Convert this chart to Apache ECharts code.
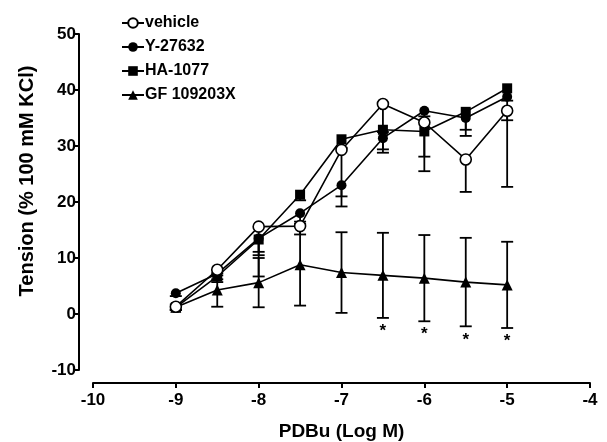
<!DOCTYPE html>
<html>
<head>
<meta charset="utf-8">
<script src="https://cdn.jsdelivr.net/npm/echarts@6/dist/echarts.min.js"></script>
<style>
html,body{margin:0;padding:0;background:#fff;}
#chart{width:607px;height:442px;}
</style>
</head>
<body>
<div id="chart"></div>
<script>
const doses = [-9, -8.5, -8, -7.5, -7, -6.5, -6, -5.5, -5];
const xTicks = [-10, -9, -8, -7, -6, -5, -4];
const yTicks = [-10, 0, 10, 20, 30, 40, 50];

const vehicle    = [1.3, 7.9, 15.6, 15.7, 29.3, 37.5, 34.2, 27.6, 36.3];
const vehicleErr = [0.5, 1.0, 8.9, 1.5, 10.1, 5.0, 8.7, 5.8, 13.6];

const y27632     = [3.7, 7.2, 13.5, 18.0, 23.0, 31.4, 36.3, 35.0, 38.8];
const y27632Err  = [0.5, 1.0, 2.4, 1.5, 2.0, 2.0, 1.0, 3.2, 4.2];

const ha1077     = [1.2, 6.7, 13.3, 21.3, 31.2, 32.9, 32.6, 36.1, 40.3];
const ha1077Err  = [0.5, 1.0, 2.8, 1.0, 1.5, 4.1, 4.5, 3.2, 2.2];

const gf109203x  = [1.2, 4.3, 5.6, 8.8, 7.4, 6.9, 6.4, 5.7, 5.2];
const gfErr      = [0.5, 3.0, 4.4, 7.3, 7.2, 7.6, 7.7, 7.9, 7.7];
const gfSig      = [0, 0, 0, 0, 0, 1, 1, 1, 1];

const FONT = '"Liberation Sans", Arial, Helvetica, sans-serif';

function errData(vals, errs, both, sig) {
  return doses.map((d, i) => [d, vals[i], errs[i], both ? errs[i] : 0, sig ? sig[i] : 0]);
}

function renderErr(params, api) {
  const x = api.value(0), y = api.value(1), lo = api.value(2), hi = api.value(3), s = api.value(4);
  const pl = api.coord([x, y - lo]);
  const ph = api.coord([x, y + hi]);
  const cw = 6;
  const style = { stroke: '#000', lineWidth: 1.8 };
  const children = [
    { type: 'line', shape: { x1: pl[0], y1: pl[1], x2: ph[0], y2: ph[1] }, style },
    { type: 'line', shape: { x1: pl[0] - cw, y1: pl[1], x2: pl[0] + cw, y2: pl[1] }, style }
  ];
  if (hi > 0) {
    children.push({ type: 'line', shape: { x1: ph[0] - cw, y1: ph[1], x2: ph[0] + cw, y2: ph[1] }, style });
  }
  if (s) {
    children.push({ type: 'text', style: { x: pl[0], y: pl[1] + 5, text: '*', fill: '#000',
      font: 'bold 17px ' + FONT, align: 'center', verticalAlign: 'top' } });
  }
  return { type: 'group', children };
}

function lineSeries(name, vals, symbol, size, open) {
  return {
    name, type: 'line', data: doses.map((d, i) => [d, vals[i]]),
    symbol, symbolSize: size, showAllSymbol: true, z: 5,
    lineStyle: { color: '#000', width: 1.6 },
    itemStyle: { color: open ? '#fff' : '#000', borderColor: '#000', borderWidth: open ? 1.6 : 0 },
    emphasis: { disabled: true }, animation: false
  };
}

function errSeries(name, vals, errs, both, sig) {
  return {
    name, type: 'custom', data: errData(vals, errs, both, sig), renderItem: renderErr,
    z: 2, animation: false, silent: true, clip: false
  };
}

const chart = echarts.init(document.getElementById('chart'), null, { renderer: 'canvas' });
chart.setOption({
  backgroundColor: '#fff',
  animation: false,
  legend: {
    orient: 'vertical', left: 116, top: 10, itemWidth: 22, itemHeight: 12, itemGap: 8,
    data: ['vehicle', 'Y-27632', 'HA-1077', 'GF 109203X'],
    textStyle: { fontFamily: FONT, fontWeight: 'bold', fontSize: 16, color: '#000', padding: [0, 0, 0, -4] },
    selectedMode: false
  },
  grid: { left: 93, right: 17, top: 34, bottom: 72, containLabel: false, outerBoundsMode: 'none' },
  xAxis: {
    type: 'value', min: -10, max: -4, interval: 1, offset: 13,
    name: 'PDBu (Log M)', nameLocation: 'middle', nameGap: 39,
    nameTextStyle: { fontFamily: FONT, fontWeight: 'bold', fontSize: 19, color: '#000' },
    axisLine: { show: true, onZero: false, lineStyle: { color: '#000', width: 2 } },
    axisTick: { show: true, length: 5, lineStyle: { color: '#000', width: 2 } },
    axisLabel: { fontFamily: FONT, fontWeight: 'bold', fontSize: 17, color: '#000', margin: 9,
      formatter: v => xTicks.includes(v) ? String(v) : '' },
    splitLine: { show: false }
  },
  yAxis: {
    type: 'value', min: -10, max: 50, interval: 10, offset: 14,
    name: 'Tension (% 100 mM KCl)', nameLocation: 'middle', nameGap: 42, nameRotate: 90,
    nameTextStyle: { fontFamily: FONT, fontWeight: 'bold', fontSize: 20, color: '#000', padding: [0, 0, 0, 42] },
    axisLine: { show: true, onZero: false, lineStyle: { color: '#000', width: 2 } },
    axisTick: { show: true, length: 5, lineStyle: { color: '#000', width: 2 } },
    axisLabel: { fontFamily: FONT, fontWeight: 'bold', fontSize: 17, color: '#000', margin: 3,
      formatter: v => yTicks.includes(v) ? String(v) : '' },
    splitLine: { show: false }
  },
  series: [
    errSeries('e1', vehicle, vehicleErr, false),
    errSeries('e2', y27632, y27632Err, false),
    errSeries('e3', ha1077, ha1077Err, false),
    errSeries('e4', gf109203x, gfErr, true, gfSig),
    lineSeries('GF 109203X', gf109203x, 'triangle', 11, false),
    lineSeries('HA-1077', ha1077, 'rect', 10, false),
    lineSeries('Y-27632', y27632, 'circle', 10, false),
    lineSeries('vehicle', vehicle, 'circle', 11, true)
  ]
});
</script>
</body>
</html>
